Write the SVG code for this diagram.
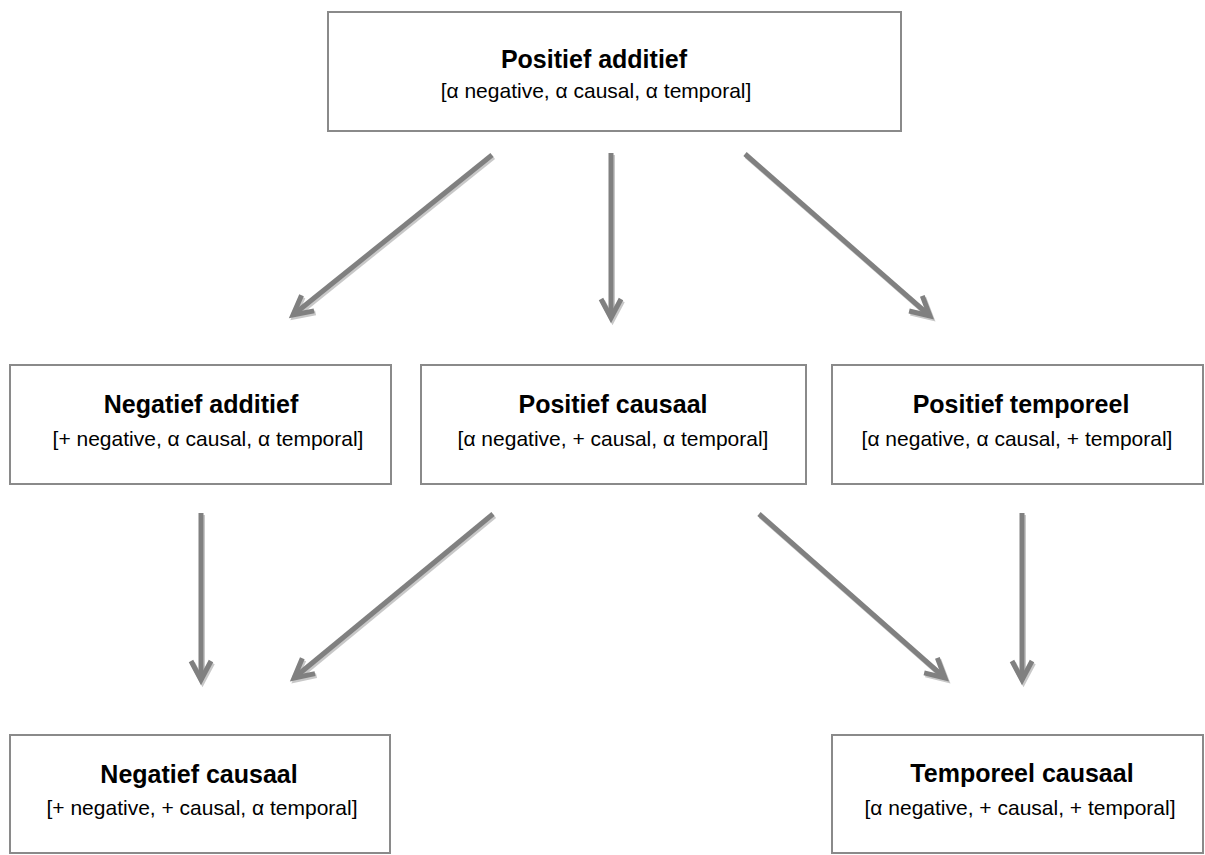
<svg xmlns="http://www.w3.org/2000/svg" width="1205" height="855" viewBox="0 0 1205 855">
<style>
.box{fill:#ffffff;stroke:#8a8a8a;stroke-width:2}
.t{font-family:"Liberation Sans",Arial,sans-serif;font-weight:bold;font-size:25px;fill:#000;text-anchor:middle}
.s{font-family:"Liberation Sans",Arial,sans-serif;font-size:21px;fill:#000;text-anchor:middle}
.a{fill:none;stroke:#808080;stroke-width:5;marker-end:url(#h)}
.sh{fill:none;stroke:#c8c8c8;stroke-width:5;marker-end:url(#hs)}
</style>
<defs>
<marker id="h" markerUnits="userSpaceOnUse" orient="auto" refX="0" refY="0" markerWidth="40" markerHeight="40" viewBox="-30 -20 40 40" overflow="visible">
<path d="M -19 -10 L 0 0 L -19 10" fill="none" stroke="#808080" stroke-width="5"/>
</marker>
<marker id="hs" markerUnits="userSpaceOnUse" orient="auto" refX="0" refY="0" markerWidth="40" markerHeight="40" viewBox="-30 -20 40 40" overflow="visible">
<path d="M -19 -10 L 0 0 L -19 10" fill="none" stroke="#c8c8c8" stroke-width="5"/>
</marker>
</defs>
<rect width="1205" height="855" fill="#ffffff"/>
<g id="connectors">
<g transform="translate(1.5,2)">
<line class="sh" x1="492" y1="155" x2="293" y2="315"/>
<line class="sh" x1="611" y1="153" x2="611" y2="318"/>
<line class="sh" x1="745" y1="154" x2="930" y2="316"/>
<line class="sh" x1="201" y1="513" x2="201" y2="680"/>
<line class="sh" x1="493" y1="514" x2="294" y2="678"/>
<line class="sh" x1="759" y1="514" x2="945" y2="678"/>
<line class="sh" x1="1022" y1="513" x2="1022" y2="680"/>
</g>
<line class="a" x1="492" y1="155" x2="293" y2="315"/>
<line class="a" x1="611" y1="153" x2="611" y2="318"/>
<line class="a" x1="745" y1="154" x2="930" y2="316"/>
<line class="a" x1="201" y1="513" x2="201" y2="680"/>
<line class="a" x1="493" y1="514" x2="294" y2="678"/>
<line class="a" x1="759" y1="514" x2="945" y2="678"/>
<line class="a" x1="1022" y1="513" x2="1022" y2="680"/>
</g>
<g id="positief-additief">
<rect class="box" x="328" y="12" width="573" height="119"/>
<text class="t" x="594" y="68">Positief additief</text>
<text class="s" x="596" y="98">[α negative, α causal, α temporal]</text>
</g>
<g id="negatief-additief">
<rect class="box" x="10" y="365" width="381" height="119"/>
<text class="t" x="201" y="413">Negatief additief</text>
<text class="s" x="208" y="446">[+ negative, α causal, α temporal]</text>
</g>
<g id="positief-causaal">
<rect class="box" x="421" y="365" width="385" height="119"/>
<text class="t" x="613" y="413">Positief causaal</text>
<text class="s" x="613" y="446">[α negative, + causal, α temporal]</text>
</g>
<g id="positief-temporeel">
<rect class="box" x="832" y="365" width="371" height="119"/>
<text class="t" x="1021" y="413">Positief temporeel</text>
<text class="s" x="1017" y="446">[α negative, α causal, + temporal]</text>
</g>
<g id="negatief-causaal">
<rect class="box" x="10" y="735" width="380" height="118"/>
<text class="t" x="199" y="783">Negatief causaal</text>
<text class="s" x="202" y="815">[+ negative, + causal, α temporal]</text>
</g>
<g id="temporeel-causaal">
<rect class="box" x="832" y="735" width="371" height="118"/>
<text class="t" x="1022" y="782">Temporeel causaal</text>
<text class="s" x="1020" y="815">[α negative, + causal, + temporal]</text>
</g>
</svg>
